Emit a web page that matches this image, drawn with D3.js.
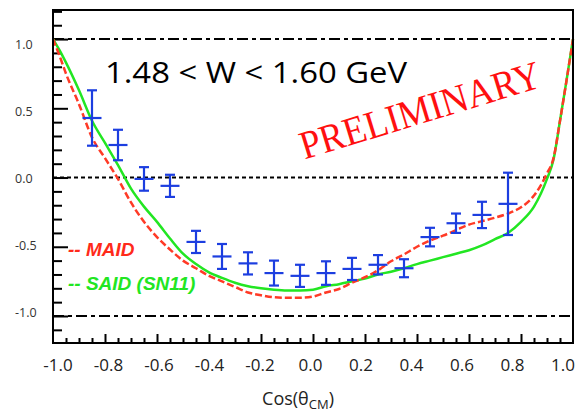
<!DOCTYPE html>
<html>
<head>
<meta charset="utf-8">
<script src="https://cdn.jsdelivr.net/npm/d3@7"></script>
<style>
  body { margin: 0; background: #fff; }
  svg { display: block; }
</style>
</head>
<body>
<svg width="575" height="412"></svg>
<script>
// measured points (cos theta bins)
const cosBins = [-0.85, -0.75, -0.65, -0.55, -0.45, -0.35, -0.25, -0.15, -0.05,
                 0.05, 0.15, 0.25, 0.35, 0.45, 0.55, 0.65, 0.75];
const dataValues = [0.43, 0.235, -0.01, -0.06, -0.465, -0.57, -0.62, -0.69, -0.71,
                    -0.69, -0.66, -0.63, -0.655, -0.43, -0.33, -0.27, -0.19];
const dataErrors = [0.2, 0.11, 0.085, 0.08, 0.08, 0.09, 0.08, 0.09, 0.08,
                    0.085, 0.08, 0.07, 0.065, 0.067, 0.07, 0.095, 0.225];

// model curves
const curveCos = [-1.0, -0.975, -0.95, -0.9, -0.85, -0.8, -0.75, -0.7, -0.65, -0.6, -0.55, -0.5,
                  -0.45, -0.4, -0.35, -0.3, -0.25, -0.2, -0.15, -0.1, -0.05, 0.0,
                  0.05, 0.1, 0.15, 0.2, 0.25, 0.3, 0.35, 0.4, 0.45, 0.5, 0.55,
                  0.6, 0.65, 0.7, 0.75, 0.8, 0.85, 0.9, 0.925, 0.95, 0.975, 1.0];
const maidValues = [1.0, 0.88, 0.75, 0.53, 0.29, 0.14, -0.01, -0.18, -0.32, -0.43, -0.52, -0.6,
                    -0.655, -0.71, -0.75, -0.79, -0.83, -0.85, -0.865, -0.868, -0.868, -0.86,
                    -0.83, -0.805, -0.76, -0.72, -0.67, -0.605, -0.555, -0.5, -0.455, -0.42, -0.38,
                    -0.34, -0.315, -0.29, -0.26, -0.215, -0.13, 0.03, 0.14, 0.41, 0.7, 1.0];
const saidValues = [1.0, 0.92, 0.83, 0.63, 0.41, 0.25, 0.09, -0.08, -0.21, -0.32, -0.44, -0.55,
                    -0.625, -0.685, -0.725, -0.76, -0.785, -0.8, -0.81, -0.815, -0.815, -0.81,
                    -0.785, -0.77, -0.75, -0.73, -0.7, -0.68, -0.655, -0.625, -0.6, -0.575, -0.55,
                    -0.525, -0.49, -0.445, -0.4, -0.32, -0.21, -0.01, 0.13, 0.41, 0.7, 1.0];

// tick labels
const xTickLabels = [-1.0, -0.8, -0.6, -0.4, -0.2, 0.0, 0.2, 0.4, 0.6, 0.8, 1.0];
const yTickLabels = [1.0, 0.5, 0.0, -0.5, -1.0];

const svg = d3.select("svg");
const frame = { left: 53, right: 573, top: 10, bottom: 343 };

const x = d3.scaleLinear().domain([-1, 1]).range([frame.left, frame.right]);
const y = d3.scaleLinear().domain([-1.195, 1.21]).range([frame.bottom, frame.top]);
// labels sit a little off the ticks in the original
const xLab = d3.scaleLinear().domain([-1, 1]).range([58, 563]);
const yLab = d3.scaleLinear().domain([-1, 1]).range([312, 44]);

// reference lines
svg.selectAll(".ref")
    .data([1, -1])
    .enter()
    .append("line")
        .attr("x1", frame.left).attr("x2", frame.right)
        .attr("y1", d => y(d)).attr("y2", d => y(d))
        .attr("stroke", "#000")
        .attr("stroke-width", 2)
        .attr("stroke-dasharray", "11,4,4,4");
svg.append("line")
    .attr("x1", frame.left).attr("x2", frame.right)
    .attr("y1", y(0)).attr("y2", y(0))
    .attr("stroke", "#000")
    .attr("stroke-width", 2)
    .attr("stroke-dasharray", "4,3");

// ticks on inside of left and bottom edge
const minorY = d3.range(-11, 13).map(d => d / 10).filter(d => Math.abs(d * 2 - Math.round(d * 2)) > 0.01);
const minorX = d3.range(-20, 21).map(d => d / 20).filter(d => Math.abs(d * 5 - Math.round(d * 5)) > 0.01);

function tickAxis(axis, vals, size, tx, ty) {
    const g = svg.append("g")
        .attr("transform", "translate(" + tx + "," + ty + ")")
        .call(axis.tickValues(vals).tickSize(size).tickFormat(""));
    g.select(".domain").remove();
    g.selectAll("line").attr("stroke", "#000").attr("stroke-width", 2);
}
tickAxis(d3.axisRight(y), minorY, 9, frame.left, 0);
tickAxis(d3.axisRight(y), [-1, -0.5, 0, 0.5, 1], 15, frame.left, 0);
tickAxis(d3.axisTop(x), minorX, 5, 0, frame.bottom);
tickAxis(d3.axisTop(x), [-0.8, -0.6, -0.4, -0.2, 0, 0.2, 0.4, 0.6, 0.8], 9, 0, frame.bottom);

// model curves
const line = d3.line()
    .x((d, i) => x(curveCos[i]))
    .y(d => y(d))
    .curve(d3.curveMonotoneX);

svg.append("path")
    .attr("d", line(saidValues))
    .attr("fill", "none")
    .attr("stroke", "#22e622")
    .attr("stroke-width", 2.5);
svg.append("path")
    .attr("d", line(maidValues))
    .attr("fill", "none")
    .attr("stroke", "#ff3a26")
    .attr("stroke-width", 2.5)
    .attr("stroke-dasharray", "7,3");

// data with error bars
const pts = svg.selectAll(".pt")
    .data(cosBins)
    .enter()
    .append("g")
        .attr("class", "pt")
        .attr("stroke", "#1c3ee0")
        .attr("stroke-width", 2.2);
pts.append("line")
    .attr("x1", d => x(d)).attr("x2", d => x(d))
    .attr("y1", (d, i) => y(dataValues[i] + dataErrors[i]))
    .attr("y2", (d, i) => y(dataValues[i] - dataErrors[i]));
pts.append("line")
    .attr("x1", d => x(d) - 9.5).attr("x2", d => x(d) + 9.5)
    .attr("y1", (d, i) => y(dataValues[i])).attr("y2", (d, i) => y(dataValues[i]));
[1, -1].forEach(s => {
    pts.append("line")
        .attr("x1", d => x(d) - 5).attr("x2", d => x(d) + 5)
        .attr("y1", (d, i) => y(dataValues[i] + s * dataErrors[i]))
        .attr("y2", (d, i) => y(dataValues[i] + s * dataErrors[i]));
});

// frame
svg.append("rect")
    .attr("x", frame.left).attr("y", frame.top)
    .attr("width", frame.right - frame.left).attr("height", frame.bottom - frame.top)
    .attr("fill", "none")
    .attr("stroke", "#000")
    .attr("stroke-width", 2);

// tick labels
svg.selectAll(".xl")
    .data(xTickLabels)
    .enter()
    .append("text")
        .attr("x", d => xLab(d))
        .attr("y", 371)
        .attr("text-anchor", "middle")
        .attr("font-family", "Open Sans")
        .attr("font-size", 17)
        .attr("fill", "#222")
        .text(d => d3.format(".1f")(d).replace("−", "-"));
svg.selectAll(".yl")
    .data(yTickLabels)
    .enter()
    .append("text")
        .attr("x", 15)
        .attr("y", d => yLab(d) + 4.5)
        .attr("font-family", "Open Sans")
        .attr("font-size", 12.5)
        .attr("fill", "#333")
        .text(d => d3.format(".1f")(d).replace("−", "-"));

// axis title
const xt = svg.append("text")
    .attr("x", 298).attr("y", 405)
    .attr("text-anchor", "middle")
    .attr("font-family", "Open Sans")
    .attr("font-size", 18)
    .attr("fill", "#222");
xt.append("tspan").text("Cos(θ");
xt.append("tspan").attr("font-size", 13).attr("dy", 4).text("CM");
xt.append("tspan").attr("dy", -4).text(")");

// W range label
svg.append("text")
    .attr("x", 105).attr("y", 83)
    .attr("font-family", "Open Sans")
    .attr("font-size", 30)
    .attr("textLength", 302)
    .attr("lengthAdjust", "spacingAndGlyphs")
    .attr("fill", "#000")
    .text("1.48 < W  < 1.60 GeV");

// legend
svg.append("text")
    .attr("x", 68).attr("y", 256)
    .attr("font-family", "Liberation Sans")
    .attr("font-size", 19)
    .attr("font-weight", "bold")
    .attr("font-style", "italic")
    .attr("fill", "#ff2a1a")
    .text("-- MAID");
svg.append("text")
    .attr("x", 68).attr("y", 290)
    .attr("font-family", "Liberation Sans")
    .attr("font-size", 19)
    .attr("font-weight", "bold")
    .attr("font-style", "italic")
    .attr("fill", "#22e622")
    .text("-- SAID (SN11)");

// watermark
svg.append("text")
    .attr("transform", "translate(424,123) rotate(-17)")
    .attr("text-anchor", "middle")
    .attr("font-family", "Liberation Serif")
    .attr("font-size", 40)
    .attr("textLength", 250)
    .attr("lengthAdjust", "spacingAndGlyphs")
    .attr("fill", "#ff1010")
    .text("PRELIMINARY");
</script>
</body>
</html>
